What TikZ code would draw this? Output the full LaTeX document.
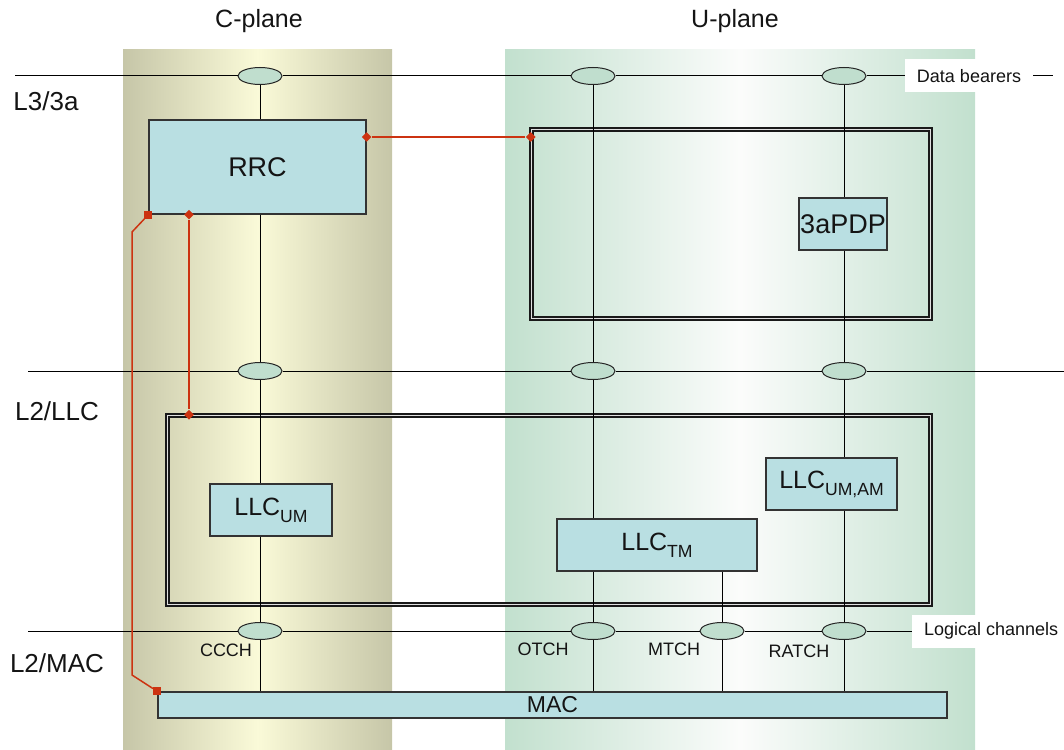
\documentclass[tikz,border=0pt]{standalone}
\usepackage{fontspec}
\setmainfont{Liberation Sans}
\usetikzlibrary{shapes.geometric,positioning,calc}
\definecolor{cplaneedge}{RGB}{198,198,168}
\definecolor{cplanemid}{RGB}{250,250,216}
\definecolor{uplaneedge}{RGB}{194,224,206}
\definecolor{uplanemid}{RGB}{251,252,251}
\definecolor{entityblue}{RGB}{185,223,226}
\definecolor{sapgreen}{RGB}{192,222,206}
\definecolor{ctrlred}{RGB}{204,51,17}
\definecolor{inktext}{RGB}{20,20,20}
\newcommand{\llcsub}[1]{LLC\raisebox{-3.5pt}{\fontsize{8.8}{10}\selectfont #1}}

\begin{document}
\begin{tikzpicture}[x=0.5pt,y=-0.5pt,
  entity/.style={draw=black!80,fill=entityblue,line width=0.6pt,inner sep=0pt,
    text=inktext,font=\fontsize{13.5}{16}\selectfont},
  sap/.style={ellipse,draw=black!85,fill=sapgreen,line width=0.5pt,
    minimum width=22pt,minimum height=8.5pt,inner sep=0pt},
  layerbox/.style={draw=black!90,double=white!88!black,double distance=0.8pt,
    line width=0.75pt,inner sep=0pt},
  link/.style={black,line width=0.5pt},
  ctrl/.style={ctrlred,line width=0.75pt},
  rdiam/.style={diamond,fill=ctrlred,inner sep=0pt,minimum size=5pt},
  rsq/.style={rectangle,fill=ctrlred,inner sep=0pt,minimum size=4pt},
  title/.style={text=inktext,font=\fontsize{12.5}{15}\selectfont},
  layer/.style={text=inktext,font=\fontsize{13}{15}\selectfont},
  chlbl/.style={text=inktext,font=\fontsize{9}{11}\selectfont},
  tag/.style={fill=white,text=inktext,font=\fontsize{9}{11}\selectfont,
    inner xsep=5.8pt,minimum height=16.5pt}]

\useasboundingbox (0,0) rectangle (1064,749);

%% ── plane columns ────────────────────────────────────────────────────────────
\fill[left color=cplaneedge,right color=cplaneedge,middle color=cplanemid]
  (123,50) rectangle (392,749);
\fill[left color=uplaneedge,right color=uplaneedge,middle color=uplanemid]
  (505,50) rectangle (975,749);

\node[title] (ctitle) at (259,21) {C-plane};
\node[title] (utitle) at (735,21) {U-plane};

%% ── layer labels ─────────────────────────────────────────────────────────────
\node[layer] (l3) at (46,101) {L3/3a};
\node[layer] (l2llc) at (57,411) {L2/LLC};
\node[layer] (l2mac) at (57,663) {L2/MAC};

%% ── layer boxes (double frame) ───────────────────────────────────────────────
\node[layerbox,minimum width=199.5pt,minimum height=94.5pt] (l3box) at (731,224) {};
\node[layerbox,minimum width=381.5pt,minimum height=94.5pt] (llcbox) at (549,510) {};

%% ── entities ─────────────────────────────────────────────────────────────────
\node[entity,minimum width=108.5pt,minimum height=47pt] (rrc) at (257.5,167) {RRC};
\node[entity,minimum width=44pt,minimum height=26pt] (pdp) at (843,224) {3aPDP};
\node[entity,minimum width=61pt,minimum height=26pt,font=\fontsize{12.5}{15}\selectfont]
  (llcum) at (271,510) {\llcsub{UM}};
\node[entity,minimum width=100pt,minimum height=26pt,font=\fontsize{12.5}{15}\selectfont]
  (llctm) at (657,545) {\llcsub{TM}};
\node[entity,minimum width=65.5pt,minimum height=26pt,font=\fontsize{12.5}{15}\selectfont]
  (llcam) at (831.5,484) {\llcsub{UM,AM}};
\node[entity,minimum width=394.5pt,minimum height=13pt,font=\fontsize{11.5}{13}\selectfont]
  (mac) at (552.5,705) {MAC};

%% ── service access points ────────────────────────────────────────────────────
\node[sap] (db1) at (260,76) {};
\node[sap] (db2) at (593,76) {};
\node[sap] (db3) at (844,76) {};
\node[sap] (l2a) at (260,371) {};
\node[sap] (l2b) at (593,371) {};
\node[sap] (l2c) at (844,371) {};
\node[sap] (ccch) at (260,631) {};
\node[sap] (otch) at (593,631) {};
\node[sap] (mtch) at (722,631) {};
\node[sap] (ratch) at (844,631) {};

\node[chlbl] (ccchlbl) at (226,650) {CCCH};
\node[chlbl] (otchlbl) at (543,649) {OTCH};
\node[chlbl] (mtchlbl) at (674,649) {MTCH};
\node[chlbl] (ratchlbl) at (799,651) {RATCH};

%% ── side tags ────────────────────────────────────────────────────────────────
\node[tag] (bearers) at (969,76) {Data bearers};
\node[tag,anchor=west] (logch) at (912,631) {Logical channels};

%% ── horizontal lines ─────────────────────────────────────────────────────────
\draw[link] (15,76) -- (db1) -- (db2) -- (db3) -- (bearers);
\draw[link] (bearers) -- (1053,76);
\draw[link] (28,371) -- (l2a) -- (l2b) -- (l2c) -- (1064,371);
\draw[link] (28,631) -- (ccch) -- (otch) -- (mtch) -- (ratch) -- (logch);

%% ── vertical lines ───────────────────────────────────────────────────────────
\draw[link] (db1) -- (db1 |- rrc.north);
\draw[link] (rrc.south -| l2a) -- (l2a);
\draw[link] (l2a) -- (l2a |- llcum.north);
\draw[link] (llcum.south -| ccch) -- (ccch);
\draw[link] (ccch) -- (ccch |- mac.north);

\draw[link] (db2) -- (l2b);
\draw[link] (l2b) -- (l2b |- llctm.north);
\draw[link] (llctm.south -| otch) -- (otch);
\draw[link] (otch) -- (otch |- mac.north);

\draw[link] (llctm.south -| mtch) -- (mtch);
\draw[link] (mtch) -- (mtch |- mac.north);

\draw[link] (db3) -- (db3 |- pdp.north);
\draw[link] (pdp.south -| l2c) -- (l2c);
\draw[link] (l2c) -- (l2c |- llcam.north);
\draw[link] (llcam.south -| ratch) -- (ratch);
\draw[link] (ratch) -- (ratch |- mac.north);

%% ── RRC control links ────────────────────────────────────────────────────────
\node[rdiam] (rrcout) at (rrc.east |- 0,137) {};
\node[rdiam] (pdpin) at (l3box.west |- 0,137) {};
\draw[ctrl] (rrcout) -- (pdpin);

\node[rdiam] (rrcdown) at (rrc.south -| 189,0) {};
\node[rdiam] (llcin) at (llcbox.north -| 189,0) {};
\draw[ctrl] (rrcdown) -- (llcin);

\node[rsq] (rrcleft) at (rrc.south west) {};
\node[rsq] (macin) at (mac.north west) {};
\draw[ctrl] (rrcleft) -- (132,232) -- (132,675) -- (macin);

\end{tikzpicture}
\end{document}
